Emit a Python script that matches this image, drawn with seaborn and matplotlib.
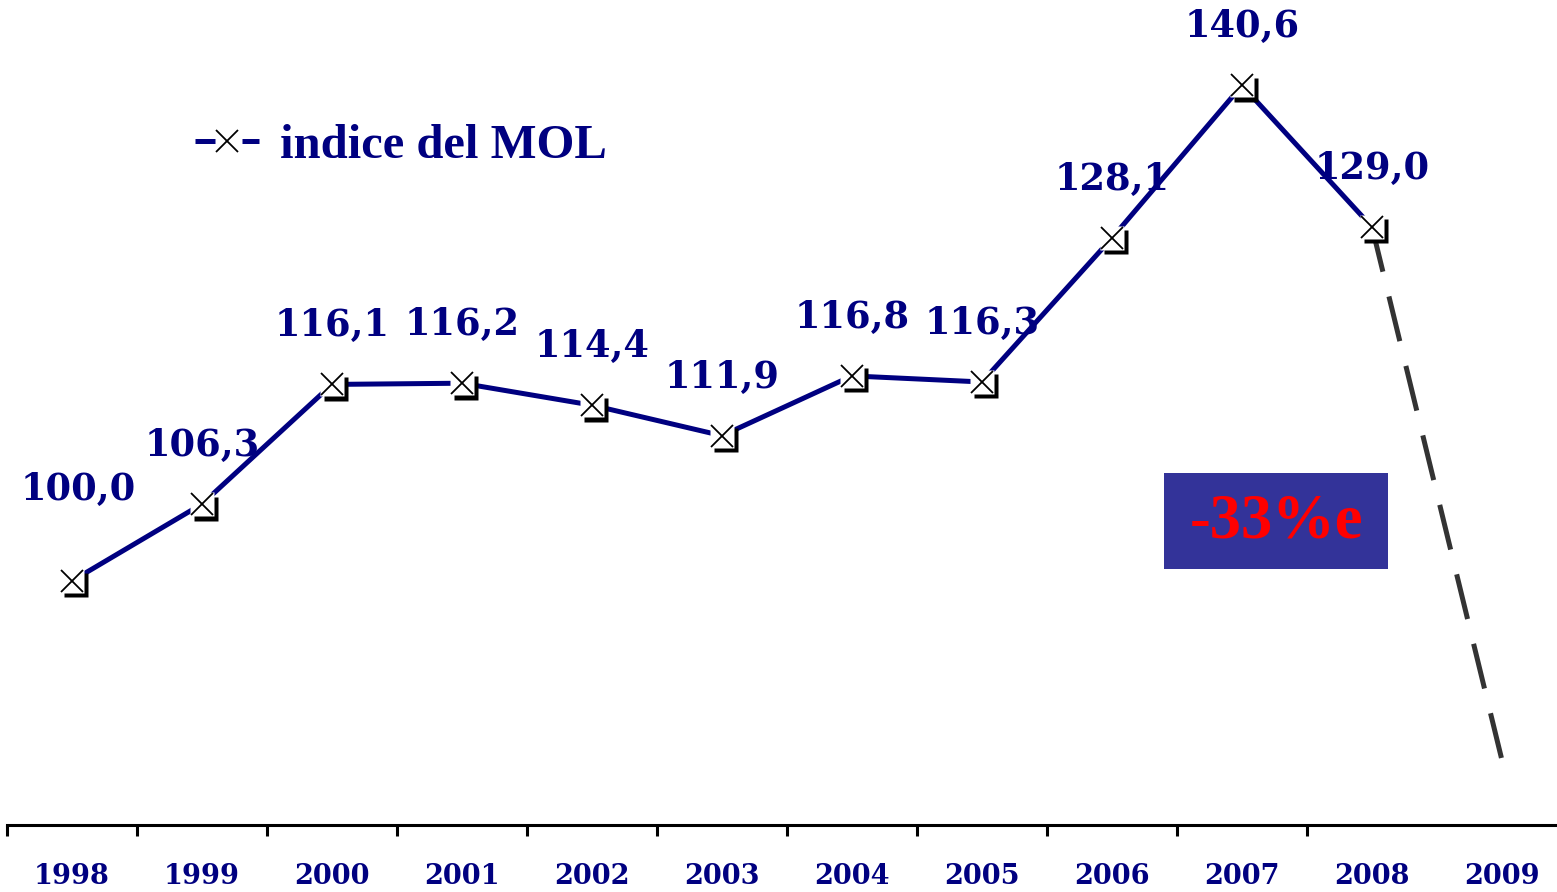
import matplotlib

matplotlib.use("Agg")
import matplotlib.pyplot as plt
import numpy as np
import pandas as pd
import seaborn as sns
from matplotlib.lines import Line2D
from matplotlib.patches import Rectangle
from matplotlib.transforms import offset_copy


YEARS = ["1998", "1999", "2000", "2001", "2002", "2003",
         "2004", "2005", "2006", "2007", "2008", "2009"]
MOL_YEARS = YEARS[:11]
MOL_INDEX = [100.0, 106.3, 116.1, 116.2, 114.4, 111.9, 116.8, 116.3, 128.1, 140.6, 129.0]
FORECAST_YEARS = ["2008", "2009"]
FORECAST_INDEX = [129.0, 85.3]
FORECAST_LABEL = "-33%e"
LEGEND_LABEL = "indice del MOL"

NAVY = "#000080"
DASH_GREY = "#333333"
BOX_BLUE = "#333399"

W, H = 1557, 892


def _label(value):
    return f"{value:.1f}".replace(".", ",")


sns.set_style("white")
plt.rcParams["font.family"] = ["DejaVu Serif", "DejaVu Sans"]

fig = plt.figure(figsize=(W / 100, H / 100), dpi=100)
ax = fig.add_axes([7 / W, 67 / H, 1 - 7 / W, 1 - 67 / H])

mol_df = pd.DataFrame({"pos": [YEARS.index(y) for y in MOL_YEARS], "mol": MOL_INDEX})
forecast_df = pd.DataFrame({"pos": [YEARS.index(y) for y in FORECAST_YEARS], "mol": FORECAST_INDEX})

sns.lineplot(data=mol_df, x="pos", y="mol", color=NAVY, linewidth=3.6, ax=ax, zorder=4)
sns.lineplot(data=forecast_df, x="pos", y="mol", color=DASH_GREY, linewidth=3.6,
             linestyle=(0, (9.2, 5.1)), ax=ax, zorder=4)

# marker: square shadow + white square + thin cross
shadow = offset_copy(ax.transData, fig=fig, x=4, y=-4.5, units="dots")
ax.plot(mol_df["pos"], mol_df["mol"], ls="none", marker="s", ms=17.3,
        mfc="black", mec="none", transform=shadow, zorder=5)
ax.plot(mol_df["pos"], mol_df["mol"], ls="none", marker="s", ms=17.3,
        mfc="white", mec="none", zorder=6)
ax.plot(mol_df["pos"], mol_df["mol"], ls="none", marker="x", ms=16,
        mec="black", mew=1.3, zorder=7)

for i, (pos, val) in enumerate(zip(mol_df["pos"], mol_df["mol"])):
    offset = (6, 91) if i == 0 else (0, 58)
    ax.annotate(_label(val), (pos, val), xytext=offset, textcoords="offset pixels",
                ha="center", va="center", fontsize=26.5, fontweight="bold",
                color=NAVY, zorder=3)

ax.set_xlim(-0.5, -0.5 + (W - 7) / 130)
ax.set_ylim(80.0, 147.6)

ax.set_xticks(np.arange(len(YEARS) - 1) - 0.5)
ax.set_xticklabels([])
ax.set_xticks(np.arange(len(YEARS)), minor=True)
ax.set_xticklabels(YEARS, minor=True, fontsize=19.5, fontweight="bold", color=NAVY)
ax.tick_params(axis="x", which="major", bottom=True, direction="out",
               length=8, width=2.2, color="black")
ax.tick_params(axis="x", which="minor", bottom=True, length=0, pad=27)
ax.set_yticks([])
ax.set_xlabel("")
ax.set_ylabel("")
sns.despine(ax=ax, left=True)
ax.spines["bottom"].set_linewidth(2.2)
ax.spines["bottom"].set_color("black")

legend_handle = Line2D([], [], color=NAVY, lw=3.6, linestyle=(0, (4, 5.4)),
                       marker="x", ms=16, mec="black", mew=1.3)
ax.legend(handles=[legend_handle], labels=[LEGEND_LABEL], loc="center left",
          bbox_to_anchor=(195 / W, 1 - 146 / H), bbox_transform=fig.transFigure,
          frameon=False, numpoints=1, handlelength=1.32, handletextpad=0.43,
          borderpad=0, borderaxespad=0, labelcolor=NAVY,
          prop={"family": "Liberation Serif", "weight": "bold", "size": 35})

fig.add_artist(Rectangle((1164 / W, 1 - 569 / H), 224 / W, 96 / H,
                         transform=fig.transFigure, facecolor=BOX_BLUE, edgecolor="none"))
fig.text(1276 / W, 1 - 523 / H, FORECAST_LABEL, ha="center", va="center",
         color="red", fontsize=45, fontweight="bold", family="Liberation Serif")

fig.savefig("out.png", dpi=100)
